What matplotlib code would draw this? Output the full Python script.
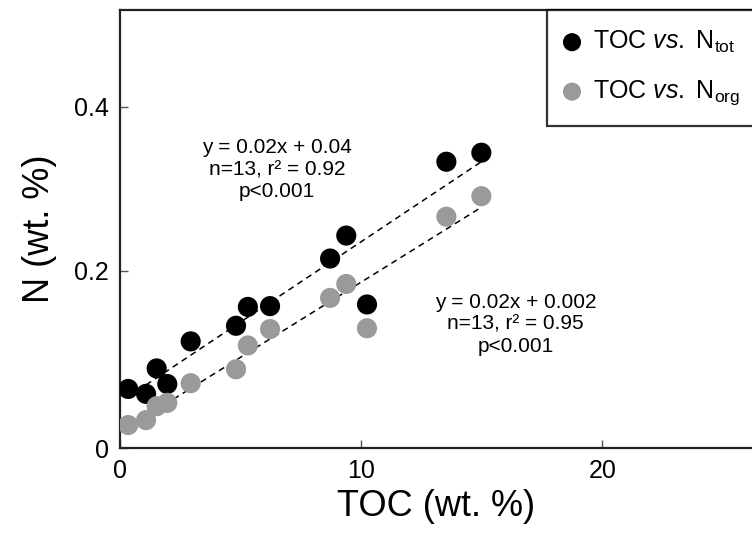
import numpy as np
import matplotlib
matplotlib.use("Agg")
import matplotlib.pyplot as plt

plt.rcParams['font.family'] = ['Liberation Sans', 'DejaVu Sans']
plt.rcParams['mathtext.fontset'] = 'custom'
plt.rcParams['mathtext.rm'] = 'Liberation Sans'
plt.rcParams['mathtext.it'] = 'Liberation Sans:italic'

# Data
toc = [0.34, 1.08, 1.52, 1.96, 2.93, 4.81, 5.30, 6.22, 8.71, 9.38, 10.24, 13.53, 14.98]
n_tot = [0.056, 0.050, 0.081, 0.062, 0.114, 0.133, 0.156, 0.157, 0.215, 0.243, 0.159, 0.333, 0.344]
n_org = [0.012, 0.018, 0.035, 0.039, 0.063, 0.080, 0.109, 0.129, 0.167, 0.184, 0.130, 0.266, 0.291]

xticks = [0, 10, 20]
xticklabels = ['0', '10', '20']
yticks_val = [0.2, 0.4]
yticklabels = ['0.2', '0.4']

ann_tot = "y = 0.02x + 0.04\nn=13, r² = 0.92\np<0.001"
ann_org = "y = 0.02x + 0.002\nn=13, r² = 0.95\np<0.001"

black = '#000000'
gray = '#999a9c'

fig = plt.figure(figsize=(7.52, 5.35), dpi=100)
ax = fig.add_axes([120/752, 1-448/535, 1-120/752, (448-10)/535])

xmin, xmax = 0, 26.2
ymin, ymax = -0.016, 0.518
ax.set_xlim(xmin, xmax)
ax.set_ylim(ymin, ymax)

x = np.array(toc)
for yv in (n_tot, n_org):
    p = np.polyfit(x, np.array(yv), 1)
    xx = np.array([x.min(), x.max()])
    ax.plot(xx, np.polyval(p, xx), ls=(0, (4, 3)), color='black', lw=1.1, zorder=3)

ax.scatter(toc, n_tot, s=210, color=black, edgecolors='none', zorder=4,
           label='TOC $\\it{vs.}$ N$_{\\rm tot}$')
ax.scatter(toc, n_org, s=210, color=gray, edgecolors='none', zorder=4,
           label='TOC $\\it{vs.}$ N$_{\\rm org}$')

ax.text(6.5, 0.323, ann_tot, ha='center', va='center', fontsize=15, linespacing=1.2)
ax.text(16.4, 0.135, ann_org, ha='center', va='center', fontsize=15, linespacing=1.2)

ax.set_xticks(xticks)
ax.set_xticklabels(xticklabels)
ax.set_yticks([ymin] + yticks_val)
ax.set_yticklabels(['0'] + yticklabels)
ax.tick_params(direction='in', length=6, width=1, labelsize=18, color='#555555', pad=8)

for s in ['left', 'bottom', 'top']:
    ax.spines[s].set_linewidth(1.6)
    ax.spines[s].set_color('#222222')
ax.spines['right'].set_visible(False)

ax.set_xlabel('TOC (wt. %)', fontsize=26, labelpad=4)
ax.set_ylabel('N (wt. %)', fontsize=26, labelpad=12)

leg = ax.legend(loc='upper left', bbox_to_anchor=((547-120)/632, 1.0, 0.4, 0.0),
                mode='expand', frameon=True, fancybox=False, fontsize=18,
                handletextpad=0.6, borderpad=0.75, labelspacing=0.95,
                handlelength=0.5, scatterpoints=1, borderaxespad=0,
                markerscale=0.9)
leg.get_frame().set_edgecolor('black')
leg.get_frame().set_linewidth(1.6)

fig.savefig('out.png', dpi=100)
